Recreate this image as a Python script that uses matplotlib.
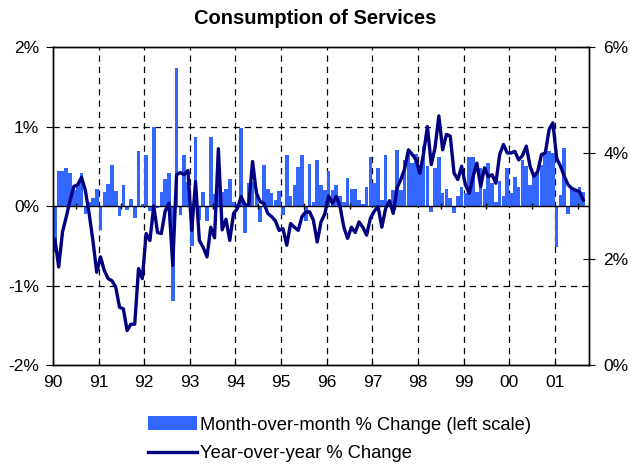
import numpy as np
import matplotlib
matplotlib.use("Agg")
import matplotlib.pyplot as plt
from matplotlib.ticker import FuncFormatter

plt.rcParams['font.family'] = ['Liberation Sans', 'DejaVu Sans']

# monthly data, Jan 1990 .. Aug 2001
year_labels = ['90', '91', '92', '93', '94', '95', '96', '97', '98', '99', '00', '01']

# month-over-month % change (left scale)
mom_change = [
    -0.58, 0.44, 0.44, 0.48, 0.41, 0.20, 0.28, 0.41, -0.10, 0.05, 0.10, 0.22,   # 90
    -0.30, 0.17, 0.28, 0.51, 0.19, -0.12, 0.27, -0.05, 0.09, -0.15, 0.69, 0.03,  # 91
    0.64, -0.06, 1.00, -0.03, 0.18, 0.34, 0.41, -1.19, 1.74, -0.11, 0.64, 0.30,  # 92
    -0.50, 0.87, -0.18, 0.18, -0.19, 0.87, 0.15, 0.20, 0.18, 0.22, 0.34, 0.05,   # 93
    0.02, 0.98, -0.34, 0.29, 0.30, 0.20, -0.20, 0.51, 0.22, 0.16, 0.07, 0.19,    # 94
    -0.11, 0.64, 0.12, 0.26, 0.49, 0.64, -0.19, 0.53, 0.05, 0.58, 0.27, 0.20,    # 95
    0.44, 0.20, 0.27, 0.12, 0.05, 0.35, 0.22, 0.22, 0.08, 0.03, 0.24, 0.62,      # 96
    0.29, 0.48, 0.08, 0.64, 0.08, 0.20, 0.71, 0.20, 0.58, 0.71, 0.54, 0.65,      # 97
    0.52, 0.76, 0.50, -0.07, 0.48, 0.62, 0.16, 0.22, 0.10, -0.09, 0.12, 0.24,    # 98
    0.16, 0.62, 0.62, 0.18, 0.48, 0.22, 0.54, 0.29, 0.05, 0.31, 0.12, 0.48,      # 99
    0.16, 0.37, 0.24, 0.58, 0.50, 0.27, 0.37, 0.43, 0.51, 0.65, 0.69, 0.67,      # 00
    -0.52, 0.14, 0.73, -0.10, 0.22, 0.20, 0.24, 0.18,                            # 01
]

# year-over-year % change (right scale)
yoy_change = [
    2.37, 1.85, 2.51, 2.80, 3.11, 3.37, 3.40, 3.54, 3.30, 2.86, 2.35, 1.75,
    2.04, 1.78, 1.63, 1.59, 1.47, 1.09, 1.06, 0.65, 0.77, 0.77, 1.82, 1.63,
    2.48, 2.35, 3.00, 2.50, 2.48, 2.90, 3.05, 1.88, 3.59, 3.63, 3.59, 3.67,
    2.54, 3.46, 2.35, 2.22, 2.04, 2.60, 2.40, 4.08, 2.55, 2.75, 2.35, 2.86,
    2.95, 3.18, 3.02, 3.02, 3.84, 3.25, 3.08, 3.05, 2.86, 2.80, 2.72, 2.54,
    2.57, 2.26, 2.67, 2.60, 2.54, 2.80, 2.89, 2.89, 2.73, 2.32, 2.70, 2.85,
    3.19, 3.05, 3.18, 3.00, 2.60, 2.39, 2.60, 2.50, 2.70, 2.60, 2.45, 2.77,
    2.90, 2.99, 2.60, 2.95, 3.10, 2.86, 3.34, 3.50, 3.70, 4.06, 3.97, 3.87,
    3.62, 4.00, 4.50, 3.78, 4.10, 4.70, 4.06, 4.35, 4.32, 3.62, 3.50, 3.75,
    3.40, 3.24, 3.55, 3.81, 3.37, 3.72, 3.55, 3.59, 3.43, 3.97, 4.16, 4.00,
    4.00, 4.03, 3.87, 3.95, 4.13, 3.75, 3.56, 3.65, 3.97, 4.00, 4.44, 4.57,
    3.90, 3.75, 3.56, 3.40, 3.33, 3.30, 3.27, 3.11,
]

n = len(mom_change)
x = np.arange(n) + 0.5

fig = plt.figure(figsize=(6.31, 4.65), dpi=100)
ax = fig.add_axes([53 / 631, 1 - 365 / 465, 536 / 631, 318 / 465])
ax2 = ax.twinx()

bars = ax.bar(x, mom_change, width=0.95, color='#3366FF', zorder=2,
              label='Month-over-month % Change (left scale)')
line, = ax2.plot(x, yoy_change, color='#000080', lw=2.4,
                 label='Year-over-year % Change', zorder=3)

ax.set_xlim(0, 141)
ax.set_ylim(-2, 2)
ax2.set_ylim(0, 6)

# grid
for yy in [-1, 1]:
    ax.axhline(yy, color='black', lw=0.9, ls=(0, (5, 4)), zorder=1)
for k in range(1, 12):
    ax.axvline(12 * k, color='black', lw=0.9, ls=(0, (5, 4)), zorder=1)
ax.axhline(0, color='black', lw=1.0, zorder=2.5)
# small ticks on the zero line at mid-year
mid_years = [12 * k + 6 for k in range(12)]
ax.vlines(mid_years, -0.04, 0.04, color='black', lw=1.0, zorder=2.5)

ax.set_yticks([-2, -1, 0, 1, 2])
ax.yaxis.set_major_formatter(FuncFormatter(lambda v, p: '%d%%' % v))
ax2.set_yticks([0, 2, 4, 6])
ax2.yaxis.set_major_formatter(FuncFormatter(lambda v, p: '%d%%' % v))

ax.set_xticks([12 * k for k in range(12)])
ax.set_xticklabels(year_labels)
ax.tick_params(axis='x', direction='in', length=5, pad=7, labelsize=12.5)
ax.tick_params(axis='y', direction='out', length=5, pad=5, labelsize=12.5)
ax2.tick_params(axis='y', direction='inout', length=9, pad=6, labelsize=12.5)

for sp in ax.spines.values():
    sp.set_color('black')
    sp.set_linewidth(1.0)
for sp in ax2.spines.values():
    sp.set_linewidth(1.0)

fig.text(0.5, 1 - 18 / 465, 'Consumption of Services', ha='center', va='center',
         fontsize=14.5, fontweight='bold')

fig.legend(handles=[bars, line], loc='upper left',
           bbox_to_anchor=(139 / 631, 1 - 407 / 465), frameon=False,
           fontsize=13.2, handlelength=2.68, handleheight=0.8,
           handletextpad=0.15, labelspacing=0.62, borderpad=0)

fig.savefig('out.png', dpi=100)
